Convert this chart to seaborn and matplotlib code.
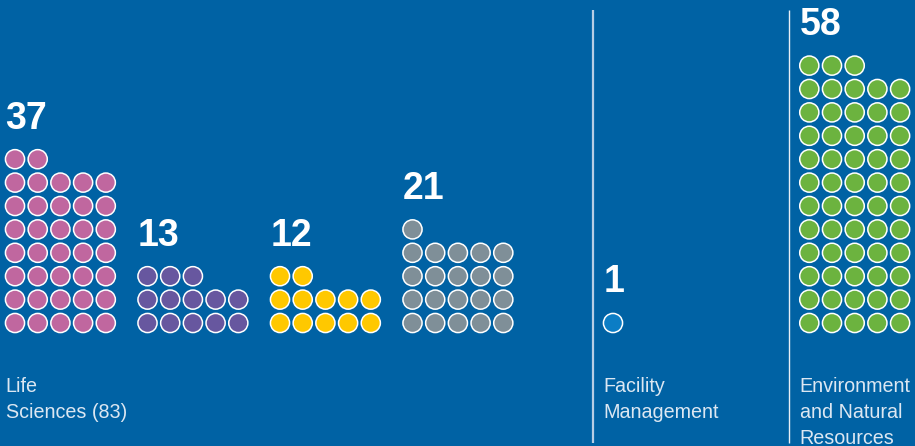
import pandas as pd
import numpy as np
import matplotlib
matplotlib.use("Agg")
import matplotlib.pyplot as plt
import seaborn as sns

# Data
groups = ["Life Sciences A", "Life Sciences B", "Life Sciences C", "Life Sciences D",
          "Facility Management", "Environment and Natural Resources"]
counts = [37, 13, 12, 21, 1, 58]
colors = ["#c0679f", "#67579f", "#ffc800", "#7f8f98", "#0b7dc5", "#6cb33f"]
labels = [["Life", "Sciences (83)"], [], [], [], ["Facility", "Management"],
          ["Environment", "and Natural", "Resources"]]

# Layout (pixels)
bg = "#0062a4"
group_x = [15, 147.5, 280, 412.5, 613, 809.3]
base_y = 323
col_step = 22.7
row_step = 23.4
per_row = 5
label_y = 392
label_step = 26

sns.set_style("white")
plt.rcParams['font.family'] = ['Liberation Sans', 'DejaVu Sans']

# Building the dot table
rows = []
for g, n, gx in zip(groups, counts, group_x):
    for k in range(n):
        rows.append({"group": g,
                     "x": gx + (k % per_row) * col_step,
                     "y": base_y - (k // per_row) * row_step})
df = pd.DataFrame(rows)

fig = plt.figure(figsize=(9.15, 4.46), dpi=100, facecolor=bg)
ax = fig.add_axes([0, 0, 1, 1])
ax.set_facecolor(bg)
ax.set_xlim(0, 915)
ax.set_ylim(446, 0)

sns.scatterplot(data=df, x="x", y="y", hue="group", hue_order=groups,
                palette=colors, s=190, edgecolor="white", linewidth=1.1,
                legend=False, ax=ax, zorder=3)

# Numbers above each pile and category labels
for g, n, gx, lab in zip(groups, counts, group_x, labels):
    top_y = df.loc[df["group"] == g, "y"].min()
    ax.text(gx - 9.5, top_y - 30.5, str(n), color="white", fontsize=27,
            fontweight="bold", ha="left", va="baseline")
    for i, line in enumerate(lab):
        ax.text(gx - 9.5, label_y + i * label_step, line, color="#dce7f2",
                fontsize=14.2, ha="left", va="baseline")

# Separators
ax.vlines([593, 789], 10, 443, colors=["#b7cde4", "#e8eef5"], linewidth=[1.6, 1.0])

ax.axis("off")
fig.savefig("out.png", dpi=100, facecolor=bg)
